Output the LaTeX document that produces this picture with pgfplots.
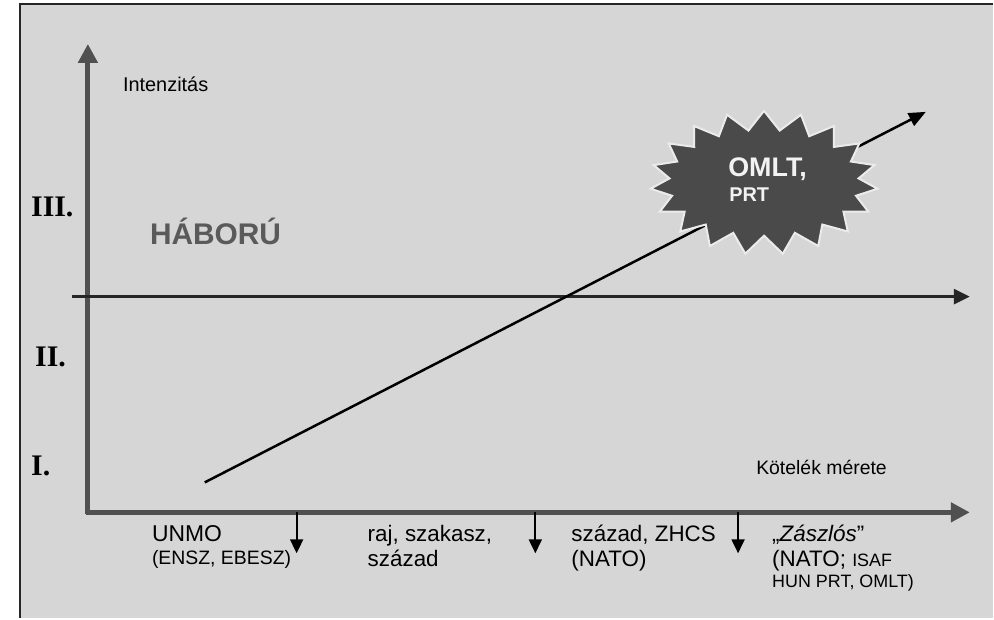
\documentclass[border=0pt]{standalone}
\usepackage{pgfplots}
\pgfplotsset{compat=1.18}
\usepackage{fontspec}
\setmainfont{Liberation Sans}
\newfontfamily\romanfont{Liberation Serif}
\usetikzlibrary{arrows.meta,shapes.symbols}
\definecolor{bg}{HTML}{D6D6D6}
\definecolor{axgray}{HTML}{505050}
\definecolor{burst}{HTML}{4A4A4A}
\definecolor{wartext}{HTML}{5A5A5A}
\newcommand{\fs}[1]{\fontsize{#1}{#1}\selectfont}
\begin{document}
\begin{tikzpicture}
\begin{axis}[
  width=994bp, height=619bp, scale only axis,
  xmin=0, xmax=994, ymin=0, ymax=619, y dir=reverse,
  axis lines=none, clip=false, ticks=none]
  % frame and background
  \fill[white] (axis cs:0,0) rectangle (axis cs:994,619);
  \fill[bg] (axis cs:20,4) rectangle (axis cs:994,619);
  \draw[black!85, line width=2.5bp] (axis cs:994,4) -- (axis cs:20,4) -- (axis cs:20,619);
  % main axes
  \addplot[axgray, line width=5bp, -{Triangle[length=19bp,width=19bp]}] coordinates {(88,515) (88,44)};
  \addplot[axgray, line width=5bp, -{Triangle[length=19bp,width=19bp]}] coordinates {(86,513) (971,513)};
  % war threshold
  \addplot[black!85, line width=3bp, -{Triangle[length=16bp,width=15bp]}] coordinates {(72,297) (971,297)};
  % trend line
  \addplot[black, line width=2.5bp, -{Triangle[length=17bp,width=14bp]}] coordinates {(205,483) (927,112)};
  % category separators
  \addplot[black, line width=2bp, -{Triangle[length=14bp,width=13bp]}] coordinates {(297,513) (297,554)};
  \addplot[black, line width=2bp, -{Triangle[length=14bp,width=13bp]}] coordinates {(536,513) (536,554)};
  \addplot[black, line width=2bp, -{Triangle[length=14bp,width=13bp]}] coordinates {(739,513) (739,554)};
  % starburst
  \node[starburst, starburst points=19, random starburst=0, starburst point height=19bp,
        minimum width=228bp, minimum height=144bp, inner sep=0pt, shape border rotate=90,
        fill=burst, draw=white!92!black, line width=2bp] at (axis cs:765,183) {};
  \node[anchor=base west, text=white!95!black, inner sep=0pt] at (axis cs:729,177) {\fs{27}\bfseries OMLT,};
  \node[anchor=base west, text=white!95!black, inner sep=0pt] at (axis cs:730,202) {\fs{20}\bfseries PRT};
  % labels
  \node[anchor=base west, inner sep=0pt] at (axis cs:123,92) {\fs{20}Intenzitás};
  \node[anchor=base west, inner sep=0pt, text=wartext] at (axis cs:150,245) {\fs{30}\bfseries HÁBORÚ};
  \node[anchor=base west, inner sep=0pt] at (axis cs:757,475) {\fs{19.5}Kötelék mérete};
  \node[anchor=base west, inner sep=0pt] at (axis cs:31,217) {\romanfont\fs{30}\bfseries III.};
  \node[anchor=base west, inner sep=0pt] at (axis cs:35,367) {\romanfont\fs{30}\bfseries II.};
  \node[anchor=base west, inner sep=0pt] at (axis cs:31,476) {\romanfont\fs{30}\bfseries I.};
  % categories
  \node[anchor=base west, inner sep=0pt] at (axis cs:152,542) {\fs{23}UNMO};
  \node[anchor=base west, inner sep=0pt] at (axis cs:152,565) {\fs{19.5}(ENSZ, EBESZ)};
  \node[anchor=base west, inner sep=0pt] at (axis cs:368,542) {\fs{22.5}raj, szakasz,};
  \node[anchor=base west, inner sep=0pt] at (axis cs:368,567) {\fs{22.5}század};
  \node[anchor=base west, inner sep=0pt] at (axis cs:572,542) {\fs{22.5}század, ZHCS};
  \node[anchor=base west, inner sep=0pt] at (axis cs:572,567) {\fs{22.5}(NATO)};
  \node[anchor=base west, inner sep=0pt] at (axis cs:773,542) {\fs{22.5}„\textit{Zászlós}”};
  \node[anchor=base west, inner sep=0pt] at (axis cs:773,567) {\fs{22.5}(NATO; {\fs{18}ISAF}};
  \node[anchor=base west, inner sep=0pt] at (axis cs:773,588) {\fs{18}HUN PRT, OMLT)};
\end{axis}
\end{tikzpicture}
\end{document}
